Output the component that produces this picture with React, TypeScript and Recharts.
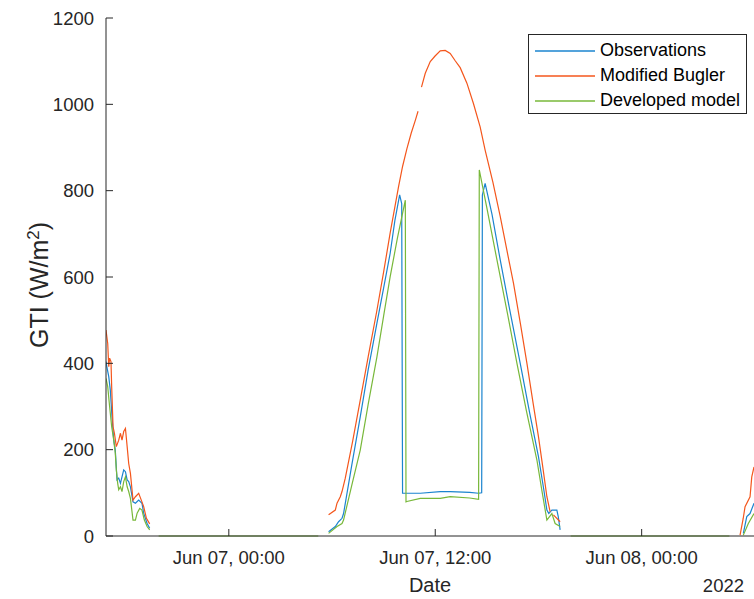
import { LineChart, Line, XAxis, YAxis } from 'recharts';

// hours since Jun 07, 00:00 (2022) and GTI in W/m2; null breaks the line
const obsHours = [
  -7.14, -7.09, -6.98, -6.89, -6.79, -6.69, -6.6, -6.5, -6.4, -6.3, -6.21, -6.11, -6.01, -5.91, -5.82, -5.72,
  -5.57, -5.43, -5.24, -5.05, -4.95, -4.75, -4.6, -4.5,
  5.8, 6.19, 6.38, 6.58, 6.67, 7.15, 7.64, 8.1, 8.61, 9.0, 9.38, 9.65, 9.93, 10.05, 10.1, 10.35, 11.13, 12.29,
  12.87, 14.0, 14.52, 14.7, 14.74, 14.9, 15.3, 15.78, 16.3, 16.94, 17.5, 18.0, 18.3, 18.49, 18.6, 18.78, 19.07,
  19.15, 19.26, 19.4,
  29.91, 30.11, 30.3, 30.53,
];
const obsGti = [
  404, 392, 369, 338, 276, 222, 199, 130, 134, 122, 137, 153, 149, 130, 126, 114,
  79, 76, 83, 76, 53, 29, 18, null,
  10, 22, 33, 41, 52, 165, 276, 385, 493, 575, 655, 730, 790, 770, 99, 99, 99, 103,
  103, 101, 99, 100, 790, 817, 745, 639, 530, 400, 283, 184, 110, 60, 52, 60, 60,
  45, 14, null,
  6, 45, 52, 76,
];

const buglerHours = [
  -7.14, -7.04, -6.98, -6.93, -6.85, -6.81, -6.73, -6.65, -6.54, -6.4, -6.3, -6.21, -6.11, -6.01, -5.91, -5.82,
  -5.72, -5.57, -5.43, -5.24, -5.05, -4.95, -4.79, -4.6, -4.5,
  5.8, 6.19, 6.29, 6.48, 6.58, 6.77, 7.2, 7.64, 8.1, 8.61, 9.0, 9.38, 9.87, 10.1, 10.35, 10.6, 10.85, 11.0, 11.1,
  11.2, 11.42, 11.71, 11.99, 12.29, 12.58, 12.87, 13.16, 13.45, 13.84, 14.22, 14.61, 14.9, 15.35, 15.78,
  16.15, 16.55, 16.95, 17.33, 17.7, 18.0, 18.25, 18.49, 18.68, 18.78, 18.87, 19.26, 19.4,
  29.72, 29.9, 30.01, 30.3, 30.4, 30.53,
];
const buglerGti = [
  477, 446, 392, 412, 404, 346, 253, 238, 207, 222, 238, 222, 242, 249, 207, 168,
  145, 83, 91, 99, 79, 68, 41, 28, null,
  49, 60, 76, 91, 103, 134, 220, 315, 415, 523, 612, 702, 810, 856, 897, 933, 964, 984, null,
  1040, 1072, 1099, 1112, 1124, 1125, 1118, 1101, 1085, 1049, 1002, 948, 894, 820, 740,
  665, 585, 492, 400, 305, 230, 160, 91, 56, null, 49, 33, null,
  2, 40, 68, 91, 137, 160,
];

const modelHours = [
  -7.14, -7.04, -6.93, -6.81, -6.69, -6.6, -6.54, -6.46, -6.4, -6.3, -6.21, -6.11, -6.01, -5.91, -5.82, -5.72,
  -5.57, -5.43, -5.33, -5.18, -5.05, -4.91, -4.75, -4.6, -4.5,
  -4.08, 5.2, 5.5,
  5.8, 6.29, 6.58, 6.67, 7.15, 7.64, 8.1, 8.61, 9.0, 9.38, 9.8, 10.26, 10.3, 10.35, 11.13, 12.29, 12.87, 14.0,
  14.52, 14.56, 15.0, 15.59, 16.2, 16.75, 17.3, 17.91, 18.2, 18.49, 18.78, 18.97, 19.26, 19.5,
  19.87, 29.1, 29.5,
  29.91, 30.2, 30.53,
];
const modelGti = [
  365, 346, 300, 253, 222, 192, 153, 122, 107, 114, 103, 126, 137, 114, 103, 87,
  37, 37, 53, 64, 60, 37, 22, 14, null,
  0, 0, null,
  6, 22, 29, 37, 118, 199, 305, 415, 510, 601, 690, 778, 79, 80, 87, 87, 91, 88,
  85, 848, 760, 639, 515, 400, 290, 176, 105, 37, 52, 29, 22, null,
  0, 0, null,
  2, 29, 52,
];

const xTicks = [0, 12, 24];
const xTickLabels = ['Jun 07, 00:00', 'Jun 07, 12:00', 'Jun 08, 00:00'];
const yTicks = [0, 200, 400, 600, 800, 1000, 1200];

const seriesNames = ['Observations', 'Modified Bugler', 'Developed model'];
const COLORS = ['#1B84CF', '#F4561C', '#78B83A'];

const FONT = '"Liberation Sans", Arial, sans-serif';
const INK = '#262626';

const toRows = (hours: number[], vals: (number | null)[]) => hours.map((t, i) => ({ t, v: vals[i] }));

const XTick = ({ x, y, payload }: any) => {
  const i = xTicks.indexOf(payload.value);
  return (
    <g>
      <line x1={x} x2={x} y1={y - 15} y2={y - 22} stroke={INK} strokeWidth={1} />
      <text x={x} y={y} dy="0.71em" textAnchor="middle" fontSize={18.5} fontFamily={FONT} fill={INK}>
        {xTickLabels[i]}
      </text>
    </g>
  );
};

const YTick = ({ x, y, payload }: any) => (
  <g>
    <line x1={x + 12} x2={x + 19} y1={y} y2={y} stroke={INK} strokeWidth={1} />
    <text x={x} y={y} dy="0.355em" textAnchor="end" fontSize={18.5} fontFamily={FONT} fill={INK}>
      {payload.value}
    </text>
  </g>
);

const XLabel = () => (
  <g fontFamily={FONT} fill={INK}>
    <text x={430} y={592} textAnchor="middle" fontSize={20}>Date</text>
    <text x={744} y={592} textAnchor="end" fontSize={18.5}>2022</text>
  </g>
);

const YLabel = () => (
  <text x={0} y={0} transform="translate(48, 285) rotate(-90)" textAnchor="middle" fontSize={25} fontFamily={FONT} fill={INK}>
    GTI (W/m
    <tspan dy={-9} fontSize={17}>2</tspan>
    <tspan dy={9}>)</tspan>
  </text>
);

function ChartLegend() {
  return (
    <div
      style={{
        position: 'absolute',
        left: 528,
        top: 34,
        width: 219,
        height: 80,
        boxSizing: 'border-box',
        border: `1px solid ${INK}`,
        background: '#fff',
        fontFamily: FONT,
        fontSize: 18,
        color: '#000',
      }}
    >
      {seriesNames.map((name, i) => (
        <div key={name} style={{ position: 'absolute', left: 6, top: 3 + i * 25, height: 25, display: 'flex', alignItems: 'center' }}>
          <svg width={62} height={4} style={{ display: 'block' }}>
            <line x1={0} x2={60} y1={2} y2={2} stroke={COLORS[i]} strokeWidth={1.3} />
          </svg>
          <span style={{ marginLeft: 3, whiteSpace: 'nowrap' }}>{name}</span>
        </div>
      ))}
    </div>
  );
}

export default function App() {
  const obs = toRows(obsHours, obsGti);
  const bugler = toRows(buglerHours, buglerGti);
  const model = toRows(modelHours, modelGti);

  return (
    <div style={{ position: 'absolute', left: 0, top: 0, width: 754, height: 599, overflow: 'hidden', background: '#fff' }}>
      <LineChart width={754} height={599} margin={{ top: 18, right: 0, bottom: 13, left: 46 }}>
        <XAxis
          type="number"
          dataKey="t"
          domain={[-7.14, 30.53]}
          ticks={xTicks}
          height={50}
          tickSize={0}
          tickMargin={15}
          tick={<XTick />}
          axisLine={{ stroke: INK }}
          tickLine={false}
          allowDataOverflow
          label={XLabel}
        />
        <YAxis
          type="number"
          domain={[0, 1200]}
          ticks={yTicks}
          width={60}
          tickSize={0}
          tickMargin={12}
          tick={<YTick />}
          axisLine={{ stroke: INK }}
          tickLine={false}
          label={YLabel}
        />
        <Line data={obs} dataKey="v" type="linear" stroke={COLORS[0]} strokeWidth={1.2} dot={false} isAnimationActive={false} />
        <Line data={bugler} dataKey="v" type="linear" stroke={COLORS[1]} strokeWidth={1.2} dot={false} isAnimationActive={false} />
        <Line data={model} dataKey="v" type="linear" stroke={COLORS[2]} strokeWidth={1.2} dot={false} isAnimationActive={false} />
      </LineChart>
      <ChartLegend />
    </div>
  );
}
